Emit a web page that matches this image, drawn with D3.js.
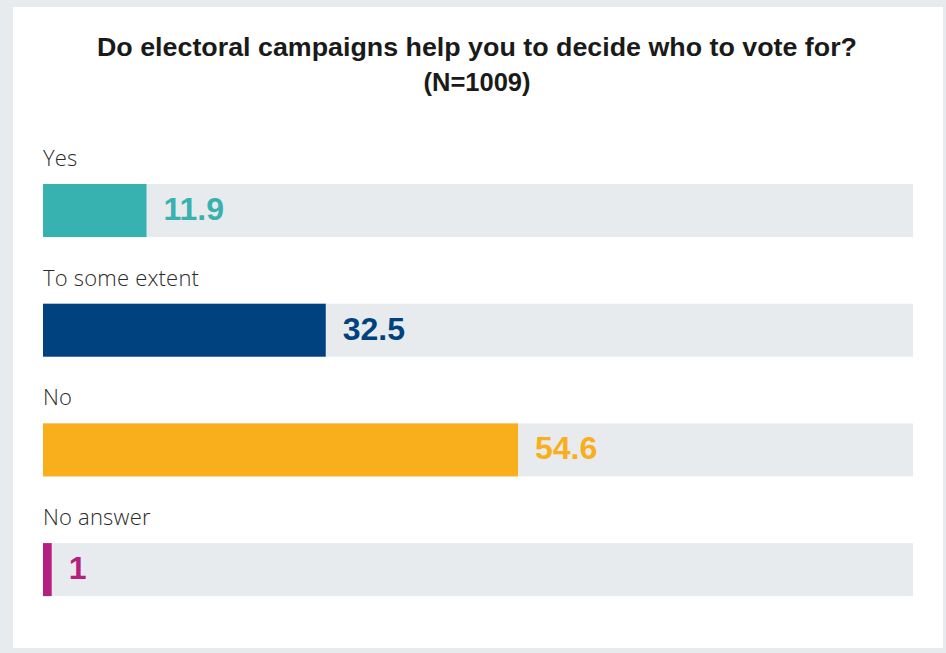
<!DOCTYPE html>
<html>
<head>
<meta charset="utf-8">
<script src="https://cdn.jsdelivr.net/npm/d3@7/dist/d3.min.js"></script>
<style>
  html, body { margin: 0; padding: 0; background: #e8ebee; }
  svg { display: block; }
</style>
</head>
<body>
<svg id="chart" width="946" height="653"></svg>
<script>
// Survey answers, percent of respondents
const categories = ["Yes", "To some extent", "No", "No answer"];
const values = [11.9, 32.5, 54.6, 1];
const colors = ["#38b2b0", "#00427f", "#f9ae1b", "#b51f7f"];
const titleLines = ["Do electoral campaigns help you to decide who to vote for?", "(N=1009)"];

const svg = d3.select("#chart");

// white card inside the grey frame
svg.append("rect")
  .attr("x", 13).attr("y", 7)
  .attr("width", 930).attr("height", 641)
  .attr("fill", "#ffffff");

// title
const title = svg.append("g")
  .selectAll("text")
  .data(titleLines)
  .join("text")
  .attr("x", 477)
  .attr("y", (d, i) => 56 + i * 35)
  .attr("text-anchor", "middle")
  .attr("font-family", "Liberation Sans, Arial, sans-serif")
  .attr("font-weight", "bold")
  .attr("font-size", 25.5)
  .attr("fill", "#1a1a1a")
  .text(d => d);
title.filter((d, i) => i === 0)
  .attr("textLength", 760)
  .attr("lengthAdjust", "spacingAndGlyphs");

const x = d3.scaleLinear().domain([0, 100]).range([43, 913]);
const y = d3.scaleBand().domain(categories).range([184, 184 + 119.7 * 4]);
const barH = 53;

const rows = svg.append("g")
  .selectAll("g")
  .data(categories.map((c, i) => ({ cat: c, val: values[i], color: colors[i] })))
  .join("g")
  .attr("transform", d => `translate(0,${y(d.cat)})`);

// background track
rows.append("rect")
  .attr("x", x(0))
  .attr("y", 0)
  .attr("width", x(100) - x(0))
  .attr("height", barH)
  .attr("fill", "#e8ebee");

// value bar
rows.append("rect")
  .attr("x", x(0))
  .attr("y", 0)
  .attr("width", d => x(d.val) - x(0))
  .attr("height", barH)
  .attr("fill", d => d.color);

// category label above bar
rows.append("text")
  .attr("x", x(0))
  .attr("y", -18)
  .attr("font-family", "Open Sans, Liberation Sans, sans-serif")
  .attr("font-weight", 300)
  .attr("font-size", 22)
  .attr("letter-spacing", 0.2)
  .attr("fill", "#2a2a2a")
  .text(d => d.cat);

// value label right of bar
rows.append("text")
  .attr("x", d => x(d.val) + 17)
  .attr("y", 36)
  .attr("font-family", "Liberation Sans, Arial, sans-serif")
  .attr("font-weight", "bold")
  .attr("font-size", 32)
  .attr("fill", d => d.color)
  .text(d => d3.format("")(d.val));
</script>
</body>
</html>
